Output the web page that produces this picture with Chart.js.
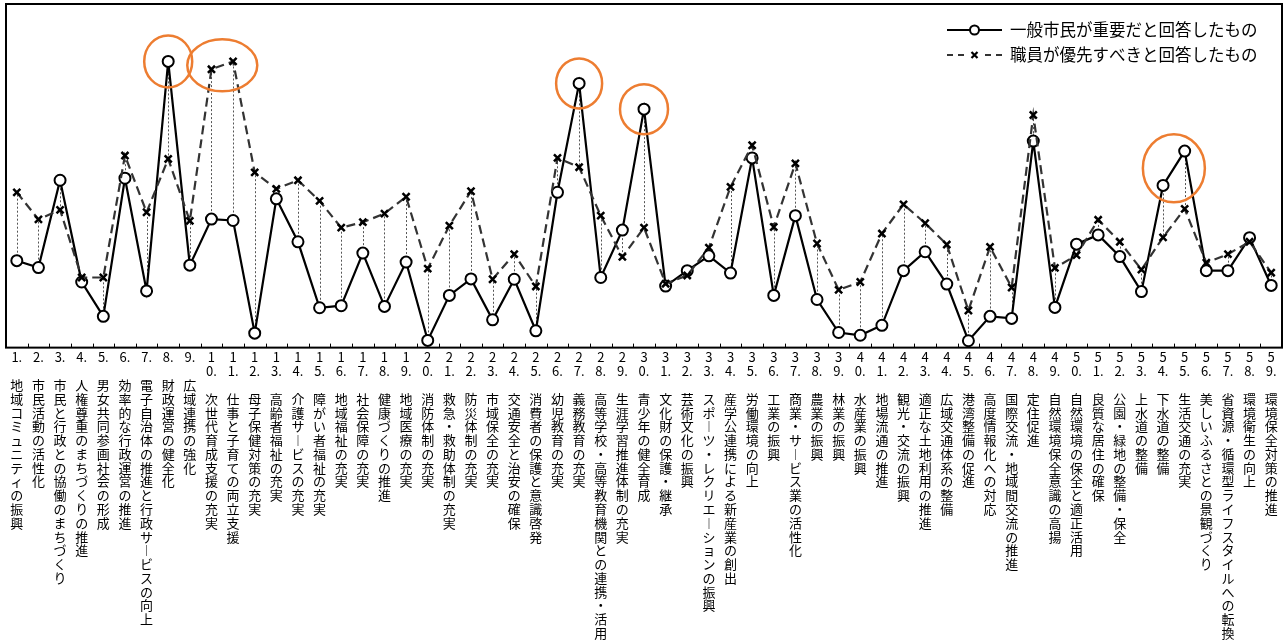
<!DOCTYPE html>
<html lang="ja">
<head>
<meta charset="utf-8">
<title>施策の重要度と優先度</title>
<script src="https://cdn.jsdelivr.net/npm/chart.js@4.4.1/dist/chart.umd.min.js"></script>
<style>
  html, body { margin: 0; padding: 0; background: #fff; }
  #wrap { width: 1285px; height: 643px; position: relative; }
</style>
</head>
<body>
<div id="wrap"><canvas id="grafico"></canvas></div>
<script>
// nomes dos 59 施策 (o número entra antes, no label do eixo)
const nomesSeisaku = [
    '地域コミュニティの振興',
    '市民活動の活性化',
    '市民と行政との協働のまちづくり',
    '人権尊重のまちづくりの推進',
    '男女共同参画社会の形成',
    '効率的な行政運営の推進',
    '電子自治体の推進と行政サービスの向上',
    '財政運営の健全化',
    '広域連携の強化',
    '次世代育成支援の充実',
    '仕事と子育ての両立支援',
    '母子保健対策の充実',
    '高齢者福祉の充実',
    '介護サービスの充実',
    '障がい者福祉の充実',
    '地域福祉の充実',
    '社会保障の充実',
    '健康づくりの推進',
    '地域医療の充実',
    '消防体制の充実',
    '救急・救助体制の充実',
    '防災体制の充実',
    '市域保全の充実',
    '交通安全と治安の確保',
    '消費者の保護と意識啓発',
    '幼児教育の充実',
    '義務教育の充実',
    '高等学校・高等教育機関との連携・活用',
    '生涯学習推進体制の充実',
    '青少年の健全育成',
    '文化財の保護・継承',
    '芸術文化の振興',
    'スポーツ・レクリエーションの振興',
    '産学公連携による新産業の創出',
    '労働環境の向上',
    '工業の振興',
    '商業・サービス業の活性化',
    '農業の振興',
    '林業の振興',
    '水産業の振興',
    '地場流通の推進',
    '観光・交流の振興',
    '適正な土地利用の推進',
    '広域交通体系の整備',
    '港湾整備の促進',
    '高度情報化への対応',
    '国際交流・地域間交流の推進',
    '定住促進',
    '自然環境保全意識の高揚',
    '自然環境の保全と適正活用',
    '良質な居住の確保',
    '公園・緑地の整備・保全',
    '上水道の整備',
    '下水道の整備',
    '生活交通の充実',
    '美しいふるさとの景観づくり',
    '省資源・循環型ライフスタイルへの転換',
    '環境衛生の向上',
    '環境保全対策の推進'
];

// 一般市民が重要だと回答したもの
const valoresShimin = [
    25.3, 23.3, 48.7, 19.1, 9.1, 49.3, 16.5, 83.3, 24.0, 37.4,
    37.0, 4.2, 43.3, 30.8, 11.6, 12.2, 27.5, 12.0, 24.9, 2.1,
    15.2, 20.0, 8.1, 19.9, 4.9, 45.2, 76.9, 20.4, 34.2, 69.4,
    17.9, 22.4, 26.7, 21.7, 55.2, 15.2, 38.4, 14.0, 4.4, 3.6,
    6.5, 22.4, 27.9, 18.5, 2.0, 9.1, 8.5, 60.1, 11.7, 30.1,
    32.8, 26.5, 16.3, 47.2, 57.2, 22.4, 22.4, 32.0, 18.1
];

// 職員が優先すべきと回答したもの
const valoresShokuin = [
    45.2, 37.3, 40.1, 20.4, 20.4, 55.9, 39.4, 54.9, 36.9, 81.0,
    83.3, 51.0, 46.2, 48.7, 42.7, 34.9, 36.5, 39.0, 43.9, 23.0,
    35.5, 45.5, 19.9, 27.2, 17.8, 55.2, 52.5, 38.4, 26.4, 34.9,
    18.6, 21.0, 29.1, 46.8, 58.9, 35.1, 53.6, 30.3, 16.8, 19.1,
    33.2, 41.7, 36.2, 30.0, 10.8, 29.3, 17.5, 67.7, 23.2, 26.9,
    37.2, 30.8, 22.7, 32.1, 40.4, 24.7, 27.2, 30.8, 21.8
];

const legendaTextos = [
    '一般市民が重要だと回答したもの',
    '職員が優先すべきと回答したもの'
];

// círculos laranja: série (0 = 市民, 1 = 職員), índices, raio do elipse
const destaques = [
    { serie: 0, idx: [7],      rx: 24, ry: 26 },
    { serie: 1, idx: [9, 10],  rx: 35, ry: 26 },
    { serie: 0, idx: [26],     rx: 23, ry: 25 },
    { serie: 0, idx: [29],     rx: 24, ry: 25 },
    { serie: 0, idx: [53, 54], rx: 31, ry: 34 }
];

const fonteJP = "'Noto Sans CJK JP', 'Noto Sans', sans-serif";

// label vertical: um caractere por linha, o ponto fica junto do último dígito
const labelsEixo = nomesSeisaku.map((nome, i) => {
    const numero = String(i + 1).split('');
    numero[numero.length - 1] += '.';
    const letras = nome.split('').map(c => c === 'ー' ? '︱' : c);
    return [...numero, '', ...letras];
});

// moldura + tracinhos do eixo x + linhas pontilhadas entre as duas séries
const pluginFundo = {
    id: 'pluginFundo',
    beforeDatasetsDraw(chart) {
        const { ctx, chartArea: a, scales: { x, y } } = chart;
        ctx.save();

        ctx.strokeStyle = '#000';
        ctx.lineWidth = 1;
        ctx.beginPath();
        for (let i = 1; i < labelsEixo.length; i++) {
            const px = Math.round((x.getPixelForValue(i - 1) + x.getPixelForValue(i)) / 2) + 0.5;
            ctx.moveTo(px, a.bottom);
            ctx.lineTo(px, a.bottom - 4);
        }
        ctx.stroke();

        ctx.strokeStyle = '#555';
        ctx.setLineDash([2, 2]);
        valoresShimin.forEach((v, i) => {
            const px = Math.round(x.getPixelForValue(i)) + 0.5;
            ctx.beginPath();
            ctx.moveTo(px, y.getPixelForValue(v));
            ctx.lineTo(px, y.getPixelForValue(valoresShokuin[i]));
            ctx.stroke();
        });

        ctx.setLineDash([]);
        ctx.strokeStyle = '#000';
        ctx.lineWidth = 2;
        ctx.strokeRect(a.left, a.top, a.right - a.left, a.bottom - a.top);
        ctx.restore();
    }
};

// elipses laranja e legenda dentro da área
const pluginFrente = {
    id: 'pluginFrente',
    afterDatasetsDraw(chart) {
        const { ctx, chartArea: a, scales: { x, y } } = chart;
        const series = [valoresShimin, valoresShokuin];
        ctx.save();

        ctx.strokeStyle = '#ED7D31';
        ctx.lineWidth = 2.5;
        destaques.forEach(d => {
            const xs = d.idx.map(i => x.getPixelForValue(i));
            const ys = d.idx.map(i => y.getPixelForValue(series[d.serie][i]));
            const cx = xs.reduce((s, v) => s + v, 0) / xs.length;
            const cy = ys.reduce((s, v) => s + v, 0) / ys.length;
            ctx.beginPath();
            ctx.ellipse(cx, cy, d.rx, d.ry, 0, 0, Math.PI * 2);
            ctx.stroke();
        });

        // legenda
        const x0 = a.right - 335;
        const x1 = a.right - 280;
        const xm = (x0 + x1) / 2;
        const linhas = [a.top + 26, a.top + 51];

        ctx.strokeStyle = '#000';
        ctx.lineWidth = 2;
        ctx.beginPath();
        ctx.moveTo(x0, linhas[0]);
        ctx.lineTo(x1, linhas[0]);
        ctx.stroke();
        ctx.beginPath();
        ctx.arc(xm, linhas[0], 4.5, 0, Math.PI * 2);
        ctx.fillStyle = '#fff';
        ctx.fill();
        ctx.stroke();

        ctx.strokeStyle = '#333';
        ctx.setLineDash([6, 5]);
        ctx.beginPath();
        ctx.moveTo(x0, linhas[1]);
        ctx.lineTo(xm - 6, linhas[1]);
        ctx.moveTo(x1, linhas[1]);
        ctx.lineTo(xm + 6, linhas[1]);
        ctx.stroke();
        ctx.setLineDash([]);
        ctx.strokeStyle = '#000';
        ctx.lineWidth = 2.2;
        ctx.beginPath();
        ctx.moveTo(xm - 3, linhas[1] - 3);
        ctx.lineTo(xm + 3, linhas[1] + 3);
        ctx.moveTo(xm - 3, linhas[1] + 3);
        ctx.lineTo(xm + 3, linhas[1] - 3);
        ctx.stroke();

        ctx.fillStyle = '#000';
        ctx.font = '16.5px ' + fonteJP;
        ctx.textAlign = 'left';
        ctx.textBaseline = 'middle';
        legendaTextos.forEach((t, i) => ctx.fillText(t, a.right - 272, linhas[i]));

        ctx.restore();
    }
};

const grafico = new Chart(document.getElementById('grafico'), {
    type: 'line',
    data: {
        labels: labelsEixo,
        datasets: [
            {
                label: legendaTextos[0],
                data: valoresShimin,
                borderColor: '#000',
                borderWidth: 2.2,
                tension: 0,
                pointStyle: 'circle',
                pointRadius: 5.5,
                pointBackgroundColor: '#fff',
                pointBorderColor: '#000',
                pointBorderWidth: 2,
                order: 1
            },
            {
                label: legendaTextos[1],
                data: valoresShokuin,
                borderColor: '#333',
                borderWidth: 2.2,
                borderDash: [9, 5],
                tension: 0,
                pointStyle: 'crossRot',
                pointRadius: 5,
                pointBorderColor: '#000',
                pointBorderWidth: 2.5,
                order: 0
            }
        ]
    },
    options: {
        responsive: true,
        maintainAspectRatio: false,
        animation: false,
        layout: {
            autoPadding: false,
            padding: { top: 4, left: 6, right: 3, bottom: 0 }
        },
        plugins: {
            legend: { display: false },
            tooltip: { enabled: false },
            title: { display: false }
        },
        scales: {
            x: {
                offset: true,
                grid: { display: false, offset: true, drawTicks: false },
                border: { display: false },
                ticks: {
                    autoSkip: false,
                    maxRotation: 0,
                    minRotation: 0,
                    padding: 3,
                    color: '#000',
                    font: { family: fonteJP, size: 13, lineHeight: 1.06 }
                }
            },
            y: {
                display: false,
                min: 0,
                max: 100
            }
        }
    },
    plugins: [pluginFundo, pluginFrente]
});
</script>
</body>
</html>
